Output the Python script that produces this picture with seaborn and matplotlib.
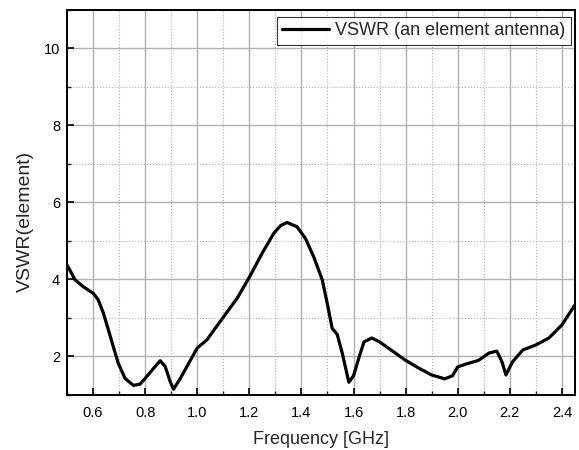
import matplotlib
matplotlib.use("Agg")
import matplotlib.pyplot as plt
import seaborn as sns
import pandas as pd
from matplotlib.ticker import MultipleLocator

freq = [0.500, 0.531, 0.563, 0.601, 0.620, 0.640, 0.659, 0.678, 0.697, 0.723, 0.755,
        0.780, 0.800, 0.832, 0.858, 0.877, 0.896, 0.909, 0.935, 0.967, 1.000, 1.037,
        1.101, 1.153, 1.201, 1.249, 1.294, 1.320, 1.345, 1.383, 1.415, 1.447, 1.480,
        1.499, 1.518, 1.537, 1.557, 1.582, 1.600, 1.620, 1.640, 1.670, 1.700, 1.750,
        1.800, 1.850, 1.900, 1.950, 1.980, 2.000, 2.030, 2.080, 2.120, 2.150, 2.170,
        2.185, 2.210, 2.250, 2.300, 2.350, 2.400, 2.450]
vswr = [4.38, 3.99, 3.81, 3.64, 3.47, 3.12, 2.69, 2.25, 1.82, 1.43, 1.25,
        1.28, 1.43, 1.69, 1.89, 1.74, 1.35, 1.15, 1.43, 1.82, 2.22, 2.43,
        3.03, 3.51, 4.07, 4.68, 5.20, 5.40, 5.48, 5.37, 5.07, 4.59, 3.99,
        3.38, 2.73, 2.58, 2.08, 1.33, 1.50, 1.95, 2.38, 2.48, 2.38, 2.14,
        1.90, 1.70, 1.52, 1.42, 1.50, 1.73, 1.80, 1.90, 2.09, 2.14, 1.86,
        1.52, 1.86, 2.17, 2.30, 2.48, 2.82, 3.34]
series_label = "VSWR (an element antenna)"

df = pd.DataFrame({"Frequency": freq, "VSWR": vswr})

sns.set_style("white")
plt.rcParams["font.family"] = ["Liberation Sans", "DejaVu Sans"]

fig = plt.figure(figsize=(5.79, 4.5), dpi=100)
ax = fig.add_axes([0.1157, 0.1222, 0.8773, 0.8558])

sns.lineplot(data=df, x="Frequency", y="VSWR", ax=ax, color="black", linewidth=2.3,
             label=series_label)
ax.lines[0].set_solid_joinstyle("round")

ax.set_xlim(0.5, 2.45)
ax.set_ylim(1, 11)
ax.xaxis.set_minor_locator(MultipleLocator(0.1))
ax.yaxis.set_minor_locator(MultipleLocator(1))
ax.set_xticks([0.6, 0.8, 1.0, 1.2, 1.4, 1.6, 1.8, 2.0, 2.2, 2.4])
ax.set_xticklabels(["0.6", "0.8", "1.0", "1.2", "1.4", "1.6", "1.8", "2.0", "2.2", "2.4"])
ax.set_yticks([2, 4, 6, 8, 10])

ax.grid(which="major", color="#b0b0b0", linestyle="-", linewidth=1.0)
ax.grid(which="minor", color="#b0b0b0", linestyle=":", linewidth=0.8)
ax.set_axisbelow(True)

ax.tick_params(which="major", direction="in", length=5, width=1.2, labelsize=10.5,
               colors="black", bottom=True, left=True)
ax.tick_params(axis="x", which="major", pad=8)
ax.tick_params(axis="y", which="major", pad=5)
ax.tick_params(which="minor", direction="in", length=3, width=1.0, bottom=True, left=True)

for s in ax.spines.values():
    s.set_color("black")
    s.set_linewidth(1.4)

ax.set_xlabel("Frequency [GHz]", fontsize=13, labelpad=8)
ax.set_ylabel("VSWR(element)", fontsize=14)
ax.yaxis.set_label_coords(-0.066, 0.452)

leg = ax.legend(loc="upper right", bbox_to_anchor=(0.992, 0.982), borderaxespad=0,
                fontsize=13, frameon=True, fancybox=False, edgecolor="black",
                handlelength=2.6, handletextpad=0.35, borderpad=0.3)
leg.get_frame().set_linewidth(0.8)

fig.savefig("out.png", dpi=100)
